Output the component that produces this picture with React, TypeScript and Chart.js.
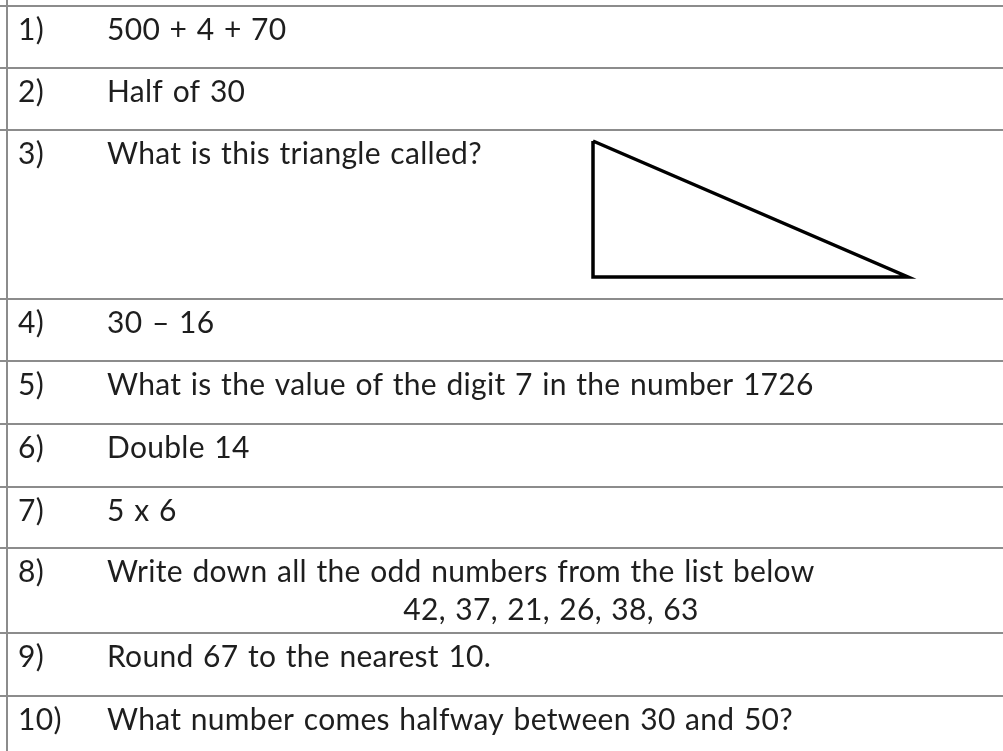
import React, { useEffect, useRef } from "react";
import Chart from "chart.js/auto";

const questionNumbers = ["1)", "2)", "3)", "4)", "5)", "6)", "7)", "8)", "9)", "10)"];
const questionTexts = [
  "500 + 4 + 70",
  "Half of 30",
  "What is this triangle called?",
  "30 \u2013 16",
  "What is the value of the digit 7 in the number 1726",
  "Double 14",
  "5 x 6",
  "Write down all the odd numbers from the list below",
  "Round 67 to the nearest 10.",
  "What number comes halfway between 30 and 50?",
];
const listLine = "42, 37, 21, 26, 38, 63";
const rowTops = [6, 68, 130, 299, 361, 424, 487, 548, 633, 696];
const tableLeft = [7];
const triangleX = [593, 593, 908, 593];
const triangleY = [141, 277, 277, 141];

const numberColumnX = 18;
const textColumnX = 107;
const listLineCenterX = 551;
const baselineOffset = 34;
const listLineOffset = 72;

export default function App() {
  const ref = useRef<HTMLCanvasElement | null>(null);

  useEffect(() => {
    if (!ref.current) return;
    const textPlugin = {
      id: "worksheetText",
      afterDatasetsDraw(chart: any) {
        const ctx = chart.ctx;
        const xs = chart.scales.x;
        const ys = chart.scales.y;
        ctx.save();
        ctx.fillStyle = "#1e1e1e";
        ctx.font = "30px Lato";
        try {
          ctx.letterSpacing = "0.3px";
          ctx.wordSpacing = "1.5px";
        } catch (e) {}
        ctx.textBaseline = "alphabetic";
        ctx.textAlign = "left";
        questionNumbers.forEach((num, i) => {
          const y = ys.getPixelForValue(rowTops[i] + baselineOffset);
          ctx.fillText(num, xs.getPixelForValue(numberColumnX), y);
          ctx.fillText(questionTexts[i], xs.getPixelForValue(textColumnX), y);
        });
        ctx.textAlign = "center";
        ctx.fillText(listLine, xs.getPixelForValue(listLineCenterX), ys.getPixelForValue(rowTops[7] + listLineOffset));
        ctx.restore();
      },
    };

    const chart = new Chart(ref.current, {
      type: "scatter",
      data: {
        datasets: [
          {
            data: triangleX.map((x, i) => ({ x, y: triangleY[i] })),
            showLine: true,
            borderColor: "#000000",
            borderWidth: 3.5,
            borderJoinStyle: "miter",
            pointRadius: 0,
            fill: false,
          },
        ],
      },
      options: {
        animation: false,
        responsive: false,
        devicePixelRatio: 1,
        layout: { padding: 0 },
        plugins: { legend: { display: false }, tooltip: { enabled: false } },
        scales: {
          x: {
            type: "linear",
            min: 0,
            max: 1003,
            afterBuildTicks: (axis: any) => {
              axis.ticks = tableLeft.map((v) => ({ value: v }));
            },
            ticks: { display: false },
            grid: { color: "#8c8c8c", lineWidth: 2, drawTicks: false },
            border: { display: false },
          },
          y: {
            type: "linear",
            min: 0,
            max: 751,
            reverse: true,
            afterBuildTicks: (axis: any) => {
              axis.ticks = rowTops.map((v) => ({ value: v }));
            },
            ticks: { display: false },
            grid: { color: "#8c8c8c", lineWidth: 2, drawTicks: false },
            border: { display: false },
          },
        },
      } as any,
      plugins: [textPlugin],
    });
    return () => chart.destroy();
  }, []);

  return (
    <div style={{ position: "fixed", left: 0, top: 0, width: 1003, height: 751, background: "#fff" }}>
      <canvas ref={ref} width={1003} height={751} style={{ display: "block" }} />
    </div>
  );
}
